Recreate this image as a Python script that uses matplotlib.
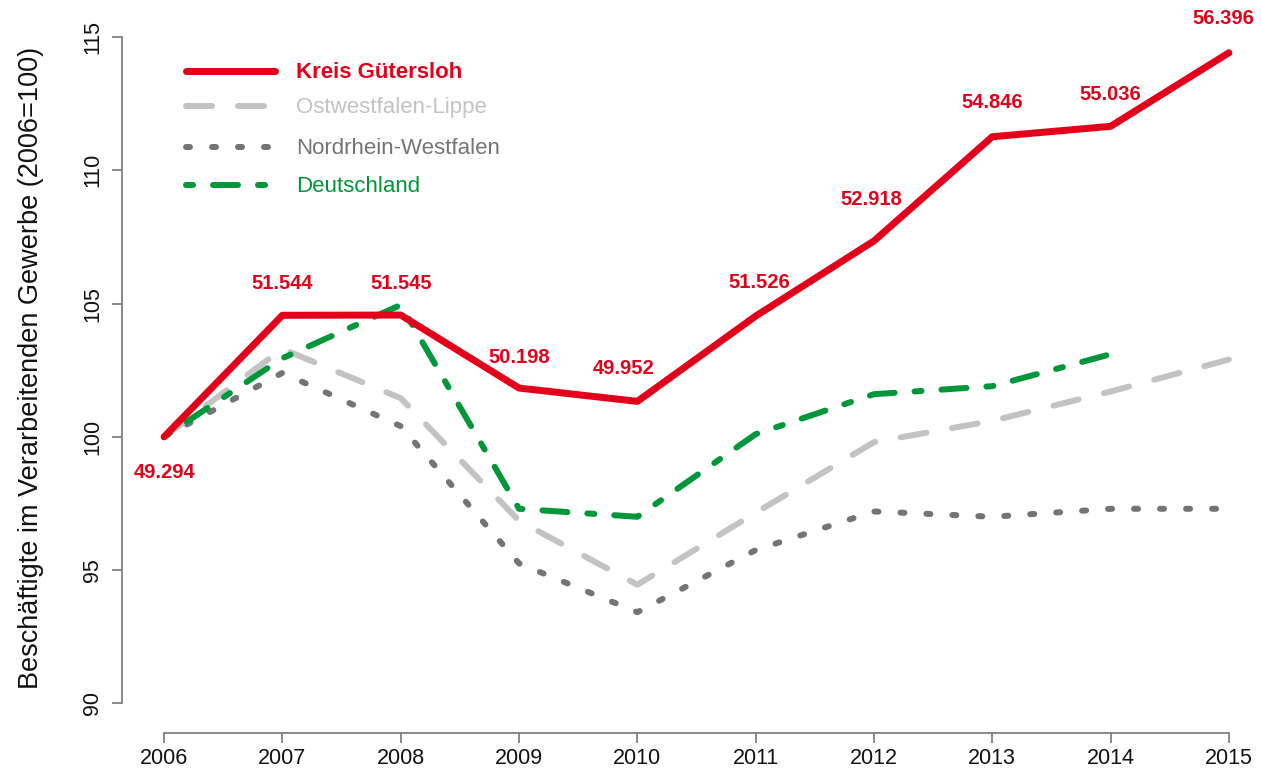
import matplotlib
matplotlib.use("Agg")
import matplotlib.pyplot as plt
from matplotlib.lines import Line2D

plt.rcParams['font.family'] = ['Liberation Sans', 'DejaVu Sans']
plt.rcParams['lines.scale_dashes'] = False

years = [2006, 2007, 2008, 2009, 2010, 2011, 2012, 2013, 2014, 2015]
guetersloh = [100.0, 104.56, 104.57, 101.83, 101.33, 104.53, 107.35, 111.26, 111.65, 114.41]
owl = [100.0, 103.3, 101.45, 96.85, 94.45, 97.15, 99.8, 100.6, 101.7, 102.9]
nrw = [100.0, 102.4, 100.4, 95.25, 93.42, 95.75, 97.2, 97.0, 97.3, 97.3]
de_years = [2006, 2007, 2008, 2009, 2010, 2011, 2012, 2013, 2014]
deutschland = [100.0, 102.95, 104.95, 97.3, 97.0, 100.1, 101.6, 101.9, 103.1]
count_labels = ["49.294", "51.544", "51.545", "50.198", "49.952",
                "51.526", "52.918", "54.846", "55.036", "56.396"]
series_names = ["Kreis Gütersloh", "Ostwestfalen-Lippe", "Nordrhein-Westfalen", "Deutschland"]
y_ticks = [90, 95, 100, 105, 110, 115]
y_label = "Beschäftigte im Verarbeitenden Gewerbe (2006=100)"

RED = "#E2001A"
LGREY = "#C3C3C3"
DGREY = "#747474"
GREEN = "#00973A"
AXC = "#7F7F7F"

W, H = 1261, 769
fig = plt.figure(figsize=(W / 100, H / 100), dpi=100)

def fx(px):
    return px / W

def fy(py):
    return 1 - py / H

# axes region: x 2005.64..2015.36, y 89..116
ax = fig.add_axes([fx(121.5), fy(730.0), (1271.5 - 121.5) / W, (730.0 - 10.4) / H])
ax.set_xlim(2005.64, 2015.36)
ax.set_ylim(89, 116)

px = 0.72  # points per pixel
styles = {
    "g": dict(color=RED, lw=7 * px, ls="-", solid_capstyle="round", solid_joinstyle="round"),
    "o": dict(color=LGREY, lw=6 * px, ls=(0, (26 * px, 26 * px)), dash_capstyle="round", dash_joinstyle="round"),
    "n": dict(color=DGREY, lw=6 * px, ls=(0, (4 * px, 22 * px)), dash_capstyle="round", dash_joinstyle="round"),
    "d": dict(color=GREEN, lw=6 * px, ls=(0, (7 * px, 20 * px, 25 * px, 20 * px)), dash_capstyle="round", dash_joinstyle="round"),
}

ax.plot(years, nrw, **styles["n"], zorder=2)
ax.plot(years, owl, **styles["o"], zorder=3)
ax.plot(de_years, deutschland, **styles["d"], zorder=4)
ax.plot(years, guetersloh, **styles["g"], zorder=5)

# data labels
label_dy = [-1.35, 1.2, 1.2, 1.15, 1.25, 1.25, 1.55, 1.3, 1.2, 1.3]
label_dx = [0, 0, 0, 0, -0.12, 0.03, -0.02, 0, 0, -0.05]
for x, y, t, dy, dx in zip(years, guetersloh, count_labels, label_dy, label_dx):
    ax.text(x + dx, y + dy, t, color=RED, fontsize=14.5, fontweight="bold",
            ha="center", va="center", zorder=6)

# spines
for s in ["top", "right"]:
    ax.spines[s].set_visible(False)
ax.spines["left"].set_bounds(90, 115)
ax.spines["bottom"].set_bounds(2006, 2015)
ax.spines["bottom"].set_position(("outward", 2))
for s in ["left", "bottom"]:
    ax.spines[s].set_color(AXC)
    ax.spines[s].set_linewidth(1.3)

ax.set_yticks(y_ticks)
ax.set_yticklabels([str(v) for v in y_ticks], rotation=90, va="center")
ax.set_xticks(years)
ax.set_xticklabels([str(v) for v in years])
ax.tick_params(axis="both", direction="out", length=7, width=1.3, color=AXC,
               labelsize=15.5, labelcolor="#111111")
ax.tick_params(axis="y", pad=6)
ax.tick_params(axis="x", pad=4)

fig.text(fx(31), fy(368), y_label, rotation=90, ha="center", va="center",
         fontsize=19.5, color="#111111")

# legend (manual)
leg_rows = [71, 106, 147, 185]
keys = ["g", "o", "n", "d"]
colors = [RED, LGREY, DGREY, GREEN]
leg_ends = [275, 265, 269, 265]
for key, row, name, c, xe in zip(keys, leg_rows, series_names, colors, leg_ends):
    ln = Line2D([fx(186), fx(xe)], [fy(row), fy(row)], transform=fig.transFigure, **styles[key])
    fig.add_artist(ln)
    fig.text(fx(296), fy(row + 2), name, color=c, fontsize=16,
             fontweight="bold" if key == "g" else "normal", ha="left", va="center")

fig.savefig("out.png", dpi=100)
